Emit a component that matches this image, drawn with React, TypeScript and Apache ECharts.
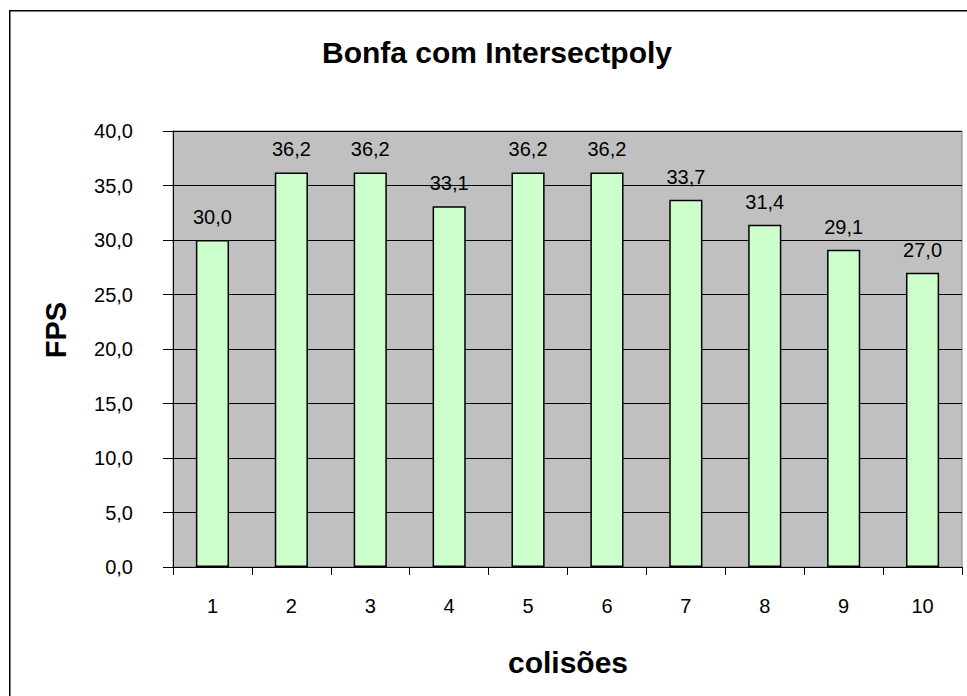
import React, { useEffect, useRef } from "react";
import * as echarts from "echarts";

const categories = ["1", "2", "3", "4", "5", "6", "7", "8", "9", "10"];
const fpsValues = [30.0, 36.2, 36.2, 33.1, 36.2, 36.2, 33.7, 31.4, 29.1, 27.0];
const titleText = "Bonfa com Intersectpoly";
const yAxisTitle = "FPS";
const xAxisTitle = "colisões";

const FONT = "'Liberation Sans', Arial, sans-serif";
const fmt = (v: number) => v.toFixed(1).replace(".", ",");

export default function App() {
  const ref = useRef<HTMLDivElement>(null);
  useEffect(() => {
    if (!ref.current) return;
    const chart = echarts.init(ref.current, undefined, { renderer: "svg" });
    chart.setOption({
      animation: false,
      backgroundColor: "#ffffff",
      textStyle: { fontFamily: FONT },
      grid: {
        left: 173,
        right: 5,
        top: 131,
        bottom: 129,
        show: true,
        backgroundColor: "#c0c0c0",
        borderColor: "#808080",
        borderWidth: 1,
      },
      xAxis: {
        type: "category",
        data: categories,
        axisLine: { show: true, lineStyle: { color: "#000", width: 1 } },
        axisTick: { show: true, alignWithLabel: false, length: 8, lineStyle: { color: "#000" } },
        axisLabel: { color: "#000", fontSize: 20, fontFamily: FONT, margin: 29 },
        splitLine: { show: false },
      },
      yAxis: {
        type: "value",
        min: 0,
        max: 40,
        interval: 5,
        axisLine: { show: true, lineStyle: { color: "#000", width: 1 } },
        axisTick: { show: true, length: 10, lineStyle: { color: "#000" } },
        axisLabel: {
          color: "#000",
          fontSize: 20,
          fontFamily: FONT,
          margin: 40,
          formatter: (v: number) => fmt(v),
        },
        splitLine: { show: true, lineStyle: { color: "#000", width: 1 } },
      },
      series: [
        {
          type: "bar",
          data: fpsValues,
          barWidth: "42%",
          itemStyle: { color: "#ccffcc", borderColor: "#000", borderWidth: 1.5 },
          label: {
            show: true,
            position: "top",
            distance: 13,
            color: "#000",
            fontSize: 20,
            fontFamily: FONT,
            formatter: (p: any) => fmt(p.value),
          },
        },
      ],
      graphic: [
        {
          type: "rect",
          shape: { x: 9.75, y: 10.75, width: 1000, height: 1000 },
          style: { fill: "none", stroke: "#000", lineWidth: 1.5 },
          silent: true,
          z: 100,
        },
        {
          type: "text",
          x: 497,
          y: 52,
          style: {
            text: titleText,
            font: `bold 30px ${FONT}`,
            fill: "#000",
            align: "center",
            verticalAlign: "middle",
          },
        },
        {
          type: "text",
          x: 56,
          y: 330,
          rotation: Math.PI / 2,
          style: {
            text: yAxisTitle,
            font: `bold 29px ${FONT}`,
            fill: "#000",
            align: "center",
            verticalAlign: "middle",
          },
        },
        {
          type: "text",
          x: 568,
          y: 662,
          style: {
            text: xAxisTitle,
            font: `bold 30px ${FONT}`,
            fill: "#000",
            align: "center",
            verticalAlign: "middle",
          },
        },
      ],
    });
    return () => chart.dispose();
  }, []);
  return (
    <div
      ref={ref}
      style={{ position: "absolute", left: 0, top: 0, width: 967, height: 696 }}
    />
  );
}
